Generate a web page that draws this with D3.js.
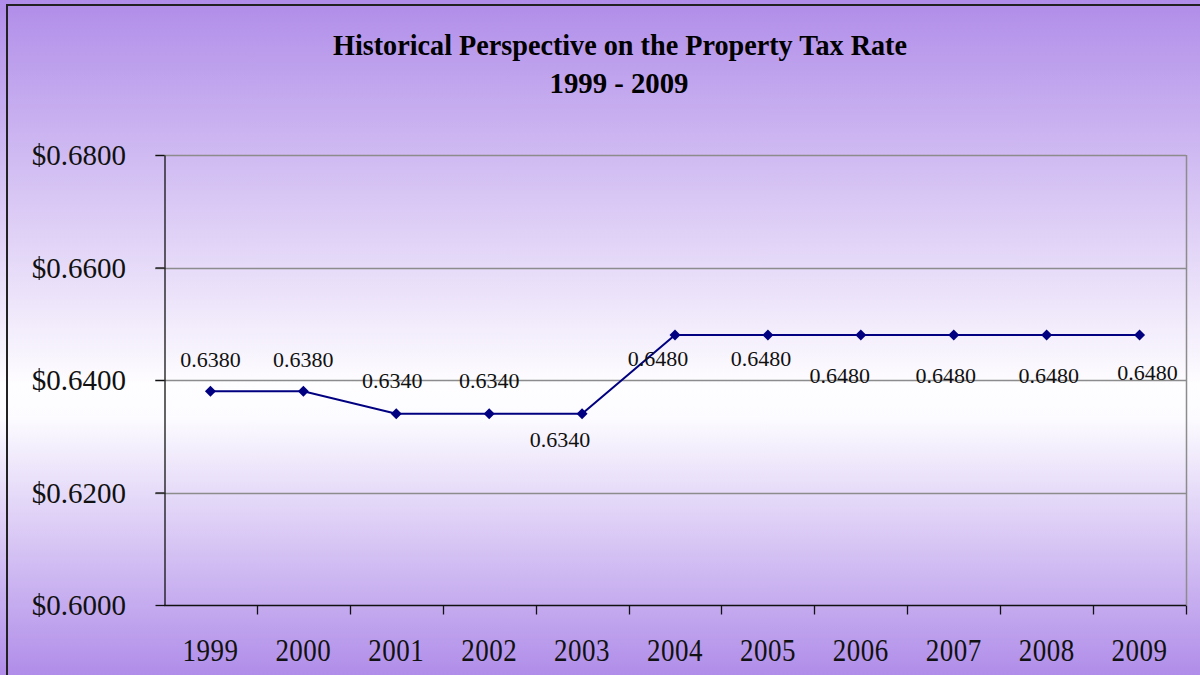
<!DOCTYPE html>
<meta charset="UTF-8">
<html>
<head>
<style>
  body { margin: 0; background: #fff; }
  svg { display: block; }
</style>
</head>
<body>
<svg width="1200" height="675"></svg>
<script src="https://d3js.org/d3.v7.min.js"></script>
<script>

// Chart data.
var years = ["1999", "2000", "2001", "2002", "2003", "2004", "2005", "2006", "2007", "2008", "2009"];
var rates = [0.6380, 0.6380, 0.6340, 0.6340, 0.6340, 0.6480, 0.6480, 0.6480, 0.6480, 0.6480, 0.6480];
var yTicks = [0.6000, 0.6200, 0.6400, 0.6600, 0.6800];
var titleLines = ["Historical Perspective on the Property Tax Rate", "1999 - 2009"];

// Where each value label sits relative to its point (dx, dy of baseline).
var labelOffsets = [[0, -24], [0, -24], [-4, -26], [0, -26], [-22, 33], [-17, 31], [-7, 31], [-21, 48], [-8, 48], [2, 48], [8, 45]];

var svg = d3.select("svg"),
    width = +svg.attr("width"),
    height = +svg.attr("height");

var margin = {top: 155, right: 14, bottom: 70, left: 164};

// Background gradient: purple -> white -> purple.
var defs = svg.append("defs");
var grad = defs.append("linearGradient")
    .attr("id", "bg")
    .attr("x1", 0).attr("y1", 0).attr("x2", 0).attr("y2", 1);
grad.append("stop").attr("offset", "0").attr("stop-color", "#b08de9");
grad.append("stop").attr("offset", "0.57").attr("stop-color", "#fefdff");
grad.append("stop").attr("offset", "0.62").attr("stop-color", "#fcfbff");
grad.append("stop").attr("offset", "1").attr("stop-color", "#b08de9");

svg.append("rect")
    .attr("x", 0).attr("y", 0)
    .attr("width", width).attr("height", height)
    .attr("fill", "url(#bg)");

// Outer frame (continues past the right and bottom edge).
svg.append("rect")
    .attr("x", 7).attr("y", 5)
    .attr("width", width + 20).attr("height", height + 20)
    .attr("fill", "none")
    .attr("stroke", "#222")
    .attr("stroke-width", 2);

var x = d3.scaleBand()
    .domain(years)
    .range([margin.left, width - margin.right]);

var y = d3.scaleLinear()
    .domain([0.60, 0.68])
    .range([height - margin.bottom, margin.top]);

// Title.
svg.append("text")
    .attr("x", 620).attr("y", 55)
    .attr("text-anchor", "middle")
    .attr("font-family", "Liberation Serif")
    .attr("font-weight", "bold")
    .attr("font-size", 30)
    .attr("textLength", 574)
    .attr("lengthAdjust", "spacingAndGlyphs")
    .attr("fill", "#000")
    .text(titleLines[0]);

svg.append("text")
    .attr("x", 619).attr("y", 93)
    .attr("text-anchor", "middle")
    .attr("font-family", "Liberation Serif")
    .attr("font-weight", "bold")
    .attr("font-size", 30)
    .attr("textLength", 139)
    .attr("lengthAdjust", "spacingAndGlyphs")
    .attr("fill", "#000")
    .text(titleLines[1]);

// Gridlines.
svg.append("g")
    .selectAll("line")
    .data(yTicks.slice(1))
    .enter().append("line")
    .attr("x1", margin.left - 9)
    .attr("x2", width - margin.right)
    .attr("y1", function(d) { return Math.round(y(d)) + 0.5; })
    .attr("y2", function(d) { return Math.round(y(d)) + 0.5; })
    .attr("stroke", "#8c8c8c")
    .attr("stroke-width", 1.3);

// Right border of the plot area.
svg.append("line")
    .attr("x1", width - margin.right + 0.5).attr("x2", width - margin.right + 0.5)
    .attr("y1", y(0.68)).attr("y2", y(0.60))
    .attr("stroke", "#8c8c8c")
    .attr("stroke-width", 1.5);

// Y axis.
var yAxis = svg.append("g")
    .attr("transform", "translate(" + (margin.left + 0.5) + ",0)")
    .call(d3.axisLeft(y).tickValues(yTicks).tickSize(9).tickSizeOuter(0).tickFormat(function(d) { return ""; }));
yAxis.select(".domain").attr("stroke", "#111").attr("stroke-width", 1.3);
yAxis.selectAll(".tick line").attr("stroke", "#111").attr("stroke-width", 1.3);

svg.append("g")
    .selectAll("text")
    .data(yTicks)
    .enter().append("text")
    .attr("x", 126)
    .attr("y", function(d) { return y(d) + 10; })
    .attr("text-anchor", "end")
    .attr("font-family", "Liberation Serif")
    .attr("font-size", 29)
    .attr("fill", "#111")
    .text(function(d) { return "$" + d3.format(".4f")(d); });

// X axis: ticks between categories.
var xAxis = svg.append("g")
    .attr("transform", "translate(0," + (y(0.60) + 0.5) + ")");
xAxis.append("line")
    .attr("x1", margin.left).attr("x2", width - margin.right)
    .attr("stroke", "#111").attr("stroke-width", 1.5);
xAxis.selectAll(".tk")
    .data(years.slice(1).concat(["end"]))
    .enter().append("line")
    .attr("class", "tk")
    .attr("x1", function(d, i) { return Math.round(x(years[0]) + x.step() * (i + 1)) + 0.5; })
    .attr("x2", function(d, i) { return Math.round(x(years[0]) + x.step() * (i + 1)) + 0.5; })
    .attr("y1", 0).attr("y2", 9)
    .attr("stroke", "#111").attr("stroke-width", 1.3);

// Year labels are a bit taller than the other text.
xAxis.selectAll("text")
    .data(years)
    .enter().append("text")
    .attr("transform", function(d) { return "translate(" + (x(d) + x.bandwidth() / 2) + ",55) scale(1,1.15)"; })
    .attr("text-anchor", "middle")
    .attr("font-family", "Liberation Serif")
    .attr("font-size", 27)
    .attr("letter-spacing", 0.5)
    .attr("fill", "#111")
    .text(function(d) { return d; });

// Series line.
var line = d3.line()
    .x(function(d, i) { return x(years[i]) + x.bandwidth() / 2; })
    .y(function(d) { return y(d); });

svg.append("path")
    .datum(rates)
    .attr("d", line)
    .attr("fill", "none")
    .attr("stroke", "#000080")
    .attr("stroke-width", 2);

// Diamond markers.
svg.append("g")
    .selectAll("path")
    .data(rates)
    .enter().append("path")
    .attr("transform", function(d, i) { return "translate(" + (x(years[i]) + x.bandwidth() / 2) + "," + y(d) + ")"; })
    .attr("d", "M0,-5.5L5.5,0L0,5.5L-5.5,0Z")
    .attr("fill", "#000080");

// Value labels.
svg.append("g")
    .selectAll("text")
    .data(rates)
    .enter().append("text")
    .attr("x", function(d, i) { return x(years[i]) + x.bandwidth() / 2 + labelOffsets[i][0]; })
    .attr("y", function(d, i) { return y(d) + labelOffsets[i][1]; })
    .attr("text-anchor", "middle")
    .attr("font-family", "Liberation Serif")
    .attr("font-size", 22)
    .attr("fill", "#111")
    .text(function(d) { return d3.format(".4f")(d); });

</script>
</body>
</html>
